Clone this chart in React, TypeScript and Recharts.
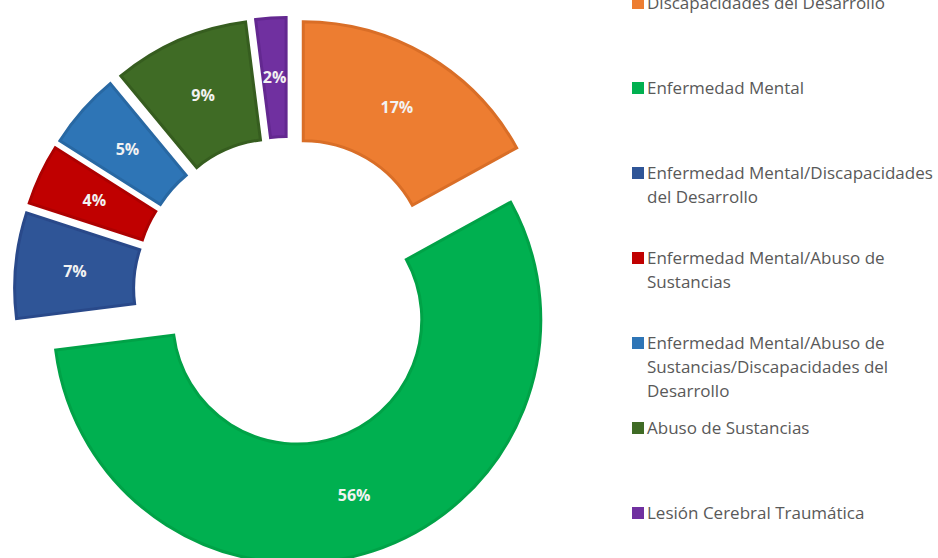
import { PieChart, Pie, Sector, Legend } from 'recharts';

// share of cases by diagnosis group (percent)
const categories = [
  'Discapacidades del Desarrollo',
  'Enfermedad Mental',
  'Enfermedad Mental/Discapacidades del Desarrollo',
  'Enfermedad Mental/Abuso de Sustancias',
  'Enfermedad Mental/Abuso de Sustancias/Discapacidades del Desarrollo',
  'Abuso de Sustancias',
  'Lesión Cerebral Traumática',
];
const shares = [17, 56, 7, 4, 5, 9, 2];

const colors = ['#ED7D31', '#00B050', '#2F5597', '#C00000', '#2E75B6', '#3F6B25', '#7030A0'];
const borders = ['#D96E27', '#00A247', '#29498A', '#AD0000', '#2868A3', '#365D1F', '#632890'];

const data = categories.map((name, i) => ({ name, value: shares[i] }));

const RADIAN = Math.PI / 180;
const EXPLODE = 30;

function renderSlice(props: any) {
  const { cx, cy, innerRadius, outerRadius, startAngle, endAngle, midAngle, index } = props;
  const ux = Math.cos(-midAngle * RADIAN);
  const uy = Math.sin(-midAngle * RADIAN);
  const x = cx + ux * EXPLODE;
  const y = cy + uy * EXPLODE;
  const mid = (innerRadius + outerRadius) / 2;
  return (
    <g>
      <Sector
        cx={x}
        cy={y}
        innerRadius={innerRadius + 1.5}
        outerRadius={outerRadius - 1.5}
        startAngle={startAngle}
        endAngle={endAngle}
        fill={colors[index]}
        stroke={borders[index]}
        strokeWidth={3}
      />
      <text
        x={x + ux * mid}
        y={y + uy * mid}
        textAnchor="middle"
        dominantBaseline="central"
        fill="#F2F2F2"
        fontFamily="'Open Sans', sans-serif"
        fontWeight={700}
        fontSize={16}
      >
        {shares[index]}%
      </text>
    </g>
  );
}

const renderLegend = () => (
  <div style={{ fontFamily: "'Open Sans', sans-serif", fontSize: 17, color: '#595959' }}>
    {categories.map((name, i) => (
      <div key={name} style={{ height: 85, display: 'flex', alignItems: 'flex-start' }}>
        <span
          style={{ width: 12, height: 12, background: colors[i], marginTop: 6, marginRight: 3, flexShrink: 0 }}
        />
        <span style={{ lineHeight: '24px', width: 296 }}>{name}</span>
      </div>
    ))}
  </div>
);

export default function App() {
  return (
    <div style={{ position: 'absolute', left: 0, top: 0, background: '#fff' }}>
      <PieChart width={938} height={558}>
        <Pie
          data={data}
          dataKey="value"
          nameKey="name"
          cx={283}
          cy={286}
          innerRadius={123}
          outerRadius={245}
          startAngle={90}
          endAngle={-270}
          fill="none"
          stroke="none"
          label={renderSlice}
          labelLine={false}
          isAnimationActive={false}
        />
        <Legend
          layout="vertical"
          content={renderLegend}
          wrapperStyle={{ left: 632, top: -9, width: 306 }}
        />
      </PieChart>
    </div>
  );
}
